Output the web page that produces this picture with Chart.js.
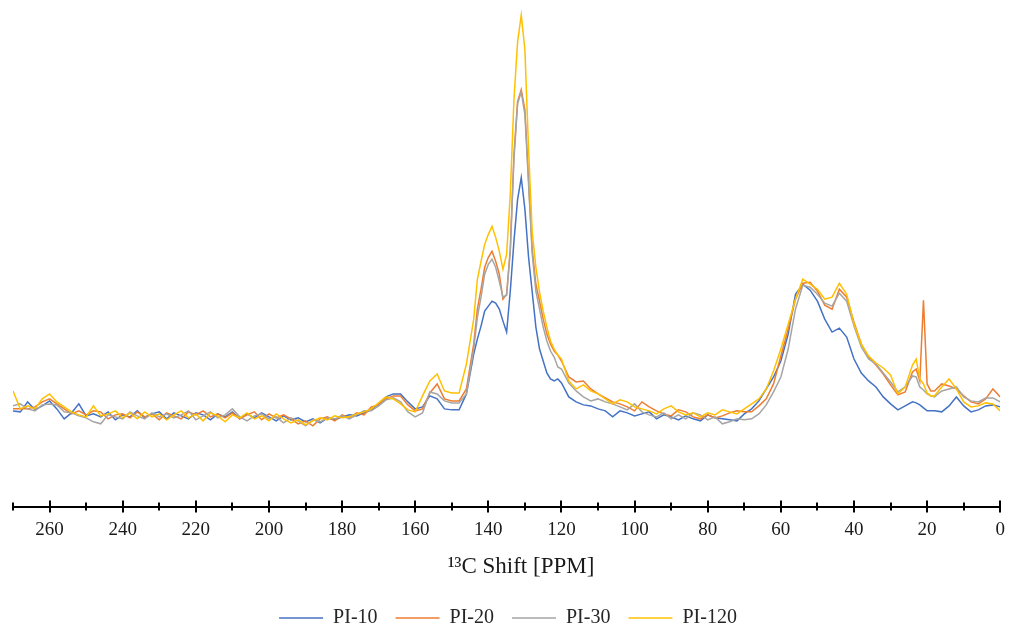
<!DOCTYPE html>
<html>
<head>
<meta charset="utf-8">
<script src="https://cdn.jsdelivr.net/npm/chart.js@4"></script>
<style>
  html, body { margin: 0; padding: 0; background: #fff; }
  #wrap { width: 1011px; height: 628px; }
</style>
</head>
<body>
<div id="wrap"><canvas id="nmrChart"></canvas></div>
<script>
// chemical shift positions (ppm), denser around the sharp peaks
const shifts = [
  270, 268, 266, 264, 262, 260, 258, 256, 254, 252, 250, 248, 246, 244, 242, 240,
  238, 236, 234, 232, 230, 228, 226, 224, 222, 220, 218, 216, 214, 212, 210, 208,
  206, 204, 202, 200, 198, 196, 194, 192, 190, 188, 186, 184, 182, 180, 178, 176,
  174, 172, 170, 168, 166, 164, 162, 160, 158, 156, 154, 152, 150, 148, 146, 144,
  143, 142, 141, 140, 139, 138, 137, 136, 135, 134, 133, 132, 131, 130, 129, 128,
  127, 126, 125, 124, 123, 122, 121, 120,
  118, 116, 114, 112, 110, 108, 106, 104, 102, 100, 98, 96, 94, 92, 90, 88,
  86, 84, 82, 80, 78, 76, 74, 72, 70, 68, 66, 64, 62, 60, 58, 56,
  54, 52, 50, 48, 46, 44, 42, 40, 38, 36, 34, 32, 30, 28, 26, 24,
  23, 22, 21, 20, 19,
  18, 16, 14, 12, 10, 8, 6, 4, 2, 0
];

const pi10 = [
  -0.2, -0.3, 0.7, -0.1, 0.3, 0.8, 0.0, -1.0, -0.4, 0.5, -0.7, -0.5, -0.8, -0.3, -1.1, -0.6,
  -0.8, -0.2, -0.9, -0.5, -0.3, -1.0, -0.4, -0.7, -1.0, -0.4, -0.6, -1.1, -0.5, -0.8, -0.3, -1.0,
  -0.5, -0.9, -0.4, -0.8, -1.2, -0.7, -1.1, -0.9, -1.3, -1.0, -1.4, -0.9, -1.1, -0.8, -0.6, -0.7,
  -0.4, -0.1, 0.5, 1.2, 1.5, 1.5, 0.7, 0.0, 0.2, 1.3, 1.0, 0.0, -0.1, -0.1, 1.5, 5.5,
  7.0, 8.3, 9.8, 10.3, 10.8, 10.6, 10.0, 8.8, 7.7, 11.8, 16.8, 21.0, 23.2, 20.0, 15.2, 11.7,
  8.2, 6.0, 4.8, 3.6, 3.0, 2.8, 3.0, 2.6,
  1.2, 0.7, 0.4, 0.3, 0.0, -0.2, -0.8, -0.2, -0.4, -0.7, -0.5, -0.3, -1.0, -0.6, -0.8, -1.1,
  -0.7, -1.0, -1.2, -0.6, -0.9, -1.0, -1.1, -1.2, -0.5, 0.0, 0.8, 2.0, 3.2, 4.8, 7.5, 11.5,
  12.5, 11.9, 10.8, 9.0, 7.7, 8.1, 7.2, 5.0, 3.6, 2.8, 2.2, 1.2, 0.5, -0.1, 0.3, 0.7,
  0.6, 0.4, 0.1, -0.2, -0.2,
  -0.2, -0.3, 0.3, 1.2, 0.3, -0.3, -0.1, 0.3, 0.4, 0.2
];

const pi20 = [
  0.0, 0.0, 0.0, 0.2, 0.7, 1.0, 0.5, 0.0, -0.5, -0.2, -0.6, -0.2, -0.3, -1.0, -0.6, -0.5,
  -0.9, -0.3, -0.8, -0.5, -1.1, -0.4, -0.7, -1.0, -0.3, -0.6, -0.2, -0.8, -0.5, -0.9, -0.4, -1.0,
  -0.6, -0.3, -1.1, -0.5, -0.9, -0.6, -1.0, -1.5, -1.2, -1.7, -1.0, -0.8, -1.2, -0.6, -0.9, -0.4,
  -0.6, 0.2, 0.4, 1.0, 1.3, 1.3, 0.4, -0.2, 0.0, 1.6, 2.5, 1.0, 0.8, 0.8, 2.0, 6.5,
  10.0, 12.0, 14.2, 15.2, 15.8, 14.8, 13.5, 11.0, 11.5, 16.0, 25.5, 30.8, 32.0, 30.0, 23.0, 16.0,
  12.5, 10.8, 9.0, 7.5, 6.5, 5.8, 5.4, 4.8,
  3.2, 2.7, 2.8, 2.0, 1.5, 1.1, 0.7, 0.5, 0.2, -0.2, 0.7, 0.2, -0.2, -0.5, -0.7, -0.1,
  -0.3, -0.8, -1.0, -0.6, -0.9, -0.7, -0.4, -0.2, -0.3, -0.3, 0.3, 1.0, 2.5, 5.3, 8.0, 11.0,
  12.6, 12.7, 11.8, 10.4, 10.0, 12.0, 11.2, 8.7, 6.5, 5.2, 4.4, 3.5, 2.4, 1.4, 1.7, 3.7,
  4.0, 2.8, 10.9, 2.5, 1.8,
  1.8, 2.5, 2.3, 2.0, 1.3, 0.7, 0.5, 1.0, 2.0, 1.2
];

const pi30 = [
  0.3, 0.5, 0.0, -0.2, 0.4, 0.5, 0.4, -0.3, -0.4, -0.7, -0.9, -1.3, -1.5, -0.6, -0.8, -1.0,
  -0.3, -0.7, -1.0, -0.4, -0.8, -0.5, -0.9, -0.6, -0.2, -1.1, -0.7, -0.3, -0.9, -0.6, 0.0, -0.8,
  -1.2, -0.7, -0.5, -1.0, -0.8, -1.4, -0.9, -1.2, -1.7, -1.1, -1.3, -0.9, -1.0, -0.7, -1.0, -0.6,
  -0.2, -0.2, 0.3, 0.9, 1.1, 0.7, -0.3, -0.8, -0.4, 1.7, 1.5, 0.8, 0.6, 0.6, 1.5, 6.0,
  9.2, 11.2, 13.5, 14.5, 15.0, 14.2, 12.8, 11.2, 11.4, 15.8, 25.0, 30.6, 31.8, 29.5, 22.5, 15.5,
  11.8, 10.0, 8.2, 6.8, 5.8, 5.2, 4.2, 4.0,
  2.6, 1.8, 1.2, 0.8, 1.0, 0.7, 0.5, 0.2, -0.1, 0.5, -0.3, -0.6, -0.8, -0.4, -1.0, -0.6,
  -1.0, -0.4, -0.6, -1.1, -0.8, -1.5, -1.3, -1.0, -1.1, -1.0, -0.5, 0.4, 1.7, 3.2, 6.0, 10.0,
  12.4, 12.2, 11.5, 10.6, 10.3, 11.6, 10.8, 8.3, 6.2, 5.0, 4.5, 3.6, 2.7, 1.7, 2.2, 3.3,
  3.2, 2.2, 1.9, 1.5, 1.3,
  1.2, 1.8, 2.0, 2.2, 1.2, 0.8, 0.7, 1.1, 1.1, 0.7
];

const pi120 = [
  1.8, 0.0, 0.3, 0.0, 1.0, 1.5, 0.7, 0.2, -0.3, -0.6, -0.8, 0.3, -0.7, -0.5, -0.2, -0.9,
  -0.4, -1.0, -0.3, -0.8, -0.5, -1.1, -0.6, -0.2, -0.9, -0.5, -1.2, -0.4, -0.7, -1.3, -0.6, -0.9,
  -0.4, -1.0, -0.7, -1.2, -0.5, -1.0, -1.4, -1.1, -1.6, -1.2, -0.9, -1.1, -0.7, -0.9, -0.8, -0.5,
  -0.3, 0.0, 0.6, 1.2, 1.0, 0.5, -0.1, -0.3, 1.3, 2.8, 3.5, 1.8, 1.6, 1.6, 4.5, 9.0,
  13.0, 14.8, 16.5, 17.5, 18.3, 17.2, 15.8, 14.0, 15.5, 21.5, 31.0, 36.8, 39.5, 36.0, 26.0, 17.7,
  14.2, 11.7, 9.8, 8.2, 6.8, 6.0, 5.4, 5.0,
  2.8, 2.0, 2.4, 1.8, 1.5, 1.0, 0.5, 0.9, 0.7, 0.2, 0.0, -0.2, -0.5, 0.0, 0.3, -0.3,
  -0.6, -0.4, -0.8, -0.4, -0.6, -0.1, -0.3, -0.5, 0.0, 0.5, 1.0, 2.0, 3.8, 6.0, 8.5, 11.0,
  13.0, 12.5, 12.0, 11.0, 11.2, 12.6, 11.5, 8.5, 6.5, 5.3, 4.6, 4.1, 3.4, 1.5, 2.2, 4.4,
  5.0, 3.0, 2.5, 1.6, 1.3,
  1.3, 2.2, 3.0, 2.0, 0.7, 0.2, 0.3, 0.6, 0.5, -0.2
];

const seriesNames = ["PI-10", "PI-20", "PI-30", "PI-120"];
const seriesColors = ["#4472C4", "#ED7D31", "#A5A5A5", "#FFC000"];

const serif = "'Liberation Serif', 'Times New Roman', serif";

function toPoints(values) {
  return values.map((v, i) => ({ x: shifts[i], y: v }));
}

// ticks that cross the axis line, longer on every 20 ppm
const crossTicks = {
  id: "crossTicks",
  afterDraw(chart) {
    const scale = chart.scales.x;
    const ctx = chart.ctx;
    const y0 = scale.top;
    ctx.save();
    ctx.strokeStyle = "#000";
    ctx.lineWidth = 2;
    scale.ticks.forEach((t) => {
      const px = Math.round(scale.getPixelForValue(t.value));
      const h = t.value % 20 === 0 ? 6 : 4;
      ctx.beginPath();
      ctx.moveTo(px, y0 - h);
      ctx.lineTo(px, y0 + h);
      ctx.stroke();
    });
    ctx.restore();
  },
};

const allSeries = [pi10, pi20, pi30, pi120];

new Chart(document.getElementById("nmrChart"), {
  type: "line",
  data: {
    datasets: allSeries.map((vals, i) => ({
      label: seriesNames[i],
      data: toPoints(vals),
      borderColor: seriesColors[i],
      backgroundColor: seriesColors[i],
      borderWidth: 1.5,
      pointRadius: 0,
      tension: 0,
      order: allSeries.length - i,
    })),
  },
  options: {
    responsive: true,
    maintainAspectRatio: false,
    animation: false,
    layout: { padding: { top: 8, left: 13, right: 8, bottom: -10 } },
    plugins: {
      tooltip: { enabled: false },
      legend: {
        position: "bottom",
        labels: {
          font: { family: serif, size: 20 },
          color: "#262626",
          usePointStyle: true,
          pointStyleWidth: 44,
          pointStyle: "line",
          padding: 18,
          sort: (a, b) => a.datasetIndex - b.datasetIndex,
        },
      },
    },
    scales: {
      x: {
        type: "linear",
        reverse: true,
        min: 0,
        max: 270,
        border: { display: true, color: "#000", width: 2 },
        grid: {
          drawOnChartArea: false,
          drawTicks: true,
          tickLength: 6,
          color: "rgba(0,0,0,0)",
        },
        ticks: {
          stepSize: 10,
          autoSkip: false,
          maxRotation: 0,
          padding: 6,
          color: "#1a1a1a",
          font: { family: serif, size: 19 },
          callback: (v) => (v % 20 === 0 ? String(v) : ""),
        },
        title: {
          display: true,
          text: "     ¹³C Shift [PPM]",
          color: "#1a1a1a",
          font: { family: serif, size: 23 },
          padding: { top: 6, bottom: 9 },
        },
      },
      y: {
        display: false,
        min: -9.8,
        max: 40.2,
      },
    },
  },
  plugins: [crossTicks],
});
</script>
</body>
</html>
